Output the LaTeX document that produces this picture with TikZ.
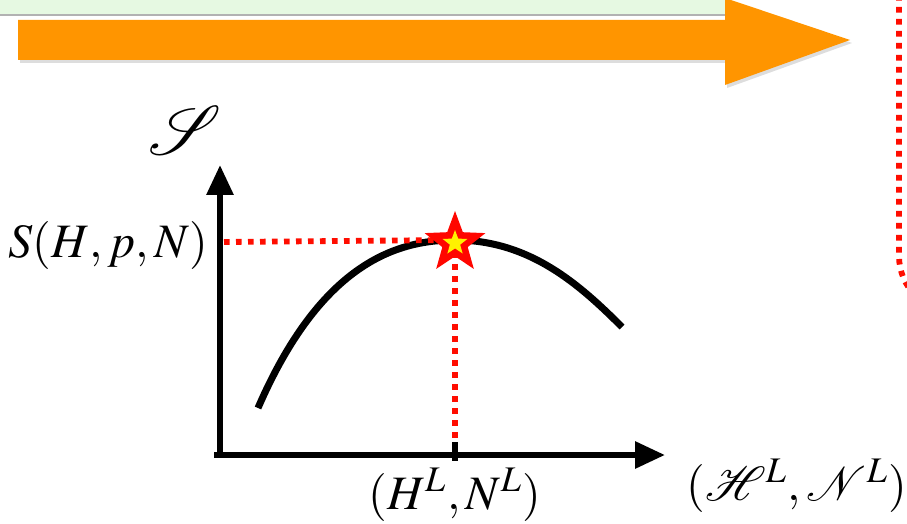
\documentclass[tikz,border=0pt]{standalone}
\usepackage{mathptmx}
\usepackage{mathrsfs}
\usepackage{tikz}
\usetikzlibrary{
    positioning,
    arrows.meta,
    shapes.geometric
}
\definecolor{flecha}{RGB}{255,149,0}
\definecolor{verdeclaro}{RGB}{230,249,226}
\tikzset{
    >=Stealth,
    eje/.style={
        line width=1.5pt,
        -{Triangle[length=7.5pt,width=6.5pt]}
    },
    guia/.style={
        red!90!orange,
        line width=1.45pt,
        dash pattern=on 1.4pt off 1.6pt
    },
    etiqueta/.style={
        inner sep=1pt,
        font=\large
    }
}

\begin{document}
\begin{tikzpicture}[
    x=0.25pt,
    y=-0.25pt
]

    \useasboundingbox (0,0) rectangle (907,523);
    \clip (0,0) rectangle (907,523);

    % Caja superior
    \fill[verdeclaro] (-5,-10) rectangle (725,15);
    \draw[gray!60, line width=0.5pt] (0,15) -- (725,15);

    % Flecha naranja
    \fill[gray!45, opacity=0.6]
        (20,23) -- (727,23) -- (727,1) -- (852,43) -- (727,88)
        -- (727,63) -- (20,63) -- cycle;
    \fill[flecha]
        (18,20) -- (725,20) -- (725,-2) -- (850,40) -- (725,85)
        -- (725,60) -- (18,60) -- cycle;

    % Borde punteado a la derecha
    \draw[guia, rounded corners=14] (899,-5) |- (915,312);

    % Ejes
    \coordinate (o)  at (220,455);
    \coordinate (o2) at (214,455);
    \coordinate (ys) at (220,165);
    \coordinate (xs) at (665,455);
    \draw[eje] (o) -- (ys);
    \draw[eje] (o2) -- (xs);

    % Curva
    \coordinate (c0) at (258,408);
    \coordinate (cm) at (455,240);
    \coordinate (c1) at (622,327);
    \draw[line width=1.75pt]
        (c0) .. controls (320,265) and (395,240) .. (cm)
             .. controls (530,240) and (580,285) .. (c1);

    % Guias punteadas
    \coordinate (py) at (224,242);
    \coordinate (px) at (455,446);
    \draw[guia] (py) -- (cm);
    \draw[guia] (cm) -- (px);
    \draw[line width=1.6pt] (455,442) -- (455,461);

    % Estrella
    \node[star, star points=5, star point ratio=2.4, fill=red!95!orange,
        minimum size=16pt, inner sep=0pt] (est) at (455,243) {};
    \node[star, star points=5, star point ratio=2.4, fill=yellow,
        minimum size=6.5pt, inner sep=0pt] (esti) at (est.center) {};

    % Etiquetas
    \node[etiqueta, font=\LARGE] (ls)  at (185,130) {$\mathscr{S}$};
    \node[etiqueta] (lsv) at (108,246) {$S(H,p,N)$};
    \node[etiqueta] (lhn) at (455,495) {$(H^L,N^L)$};
    \node[etiqueta] (lxe) at (797,486) {$(\mathscr{H}^L,\mathscr{N}^L)$};

\end{tikzpicture}
\end{document}
